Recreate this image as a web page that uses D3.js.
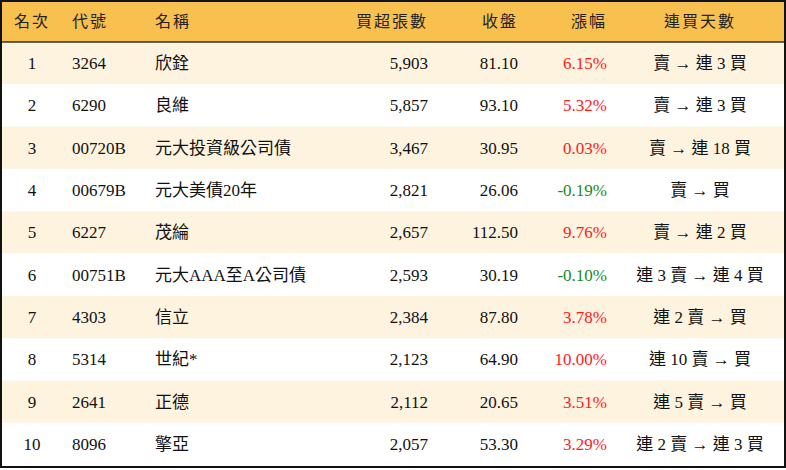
<!DOCTYPE html>
<html><head><meta charset="utf-8">
<script src="https://cdn.jsdelivr.net/npm/d3@7"></script>
<style>body{margin:0;background:#fff}</style>
</head><body>
<script>
"use strict";

// table data
const headers = ["名次", "代號", "名稱", "買超張數", "收盤", "漲幅", "連買天數"];
const ranks = [1, 2, 3, 4, 5, 6, 7, 8, 9, 10];
const codes = ["3264", "6290", "00720B", "00679B", "6227", "00751B", "4303", "5314", "2641", "8096"];
const names = ["欣銓", "良維", "元大投資級公司債", "元大美債20年", "茂綸", "元大AAA至A公司債", "信立", "世紀*", "正德", "擎亞"];
const netBuy = [5903, 5857, 3467, 2821, 2657, 2593, 2384, 2123, 2112, 2057];
const closes = [81.10, 93.10, 30.95, 26.06, 112.50, 30.19, 87.80, 64.90, 20.65, 53.30];
const changes = [6.15, 5.32, 0.03, -0.19, 9.76, -0.10, 3.78, 10.00, 3.51, 3.29];
const streaks = ["賣 → 連 3 買", "賣 → 連 3 買", "賣 → 連 18 買", "賣 → 買", "賣 → 連 2 買",
                 "連 3 賣 → 連 4 買", "連 2 賣 → 買", "連 10 賣 → 買", "連 5 賣 → 買", "連 2 賣 → 連 3 買"];

const W = 786, H = 470, headH = 42, rowH = 42.3;
const cjk = "'Noto Sans CJK TC', sans-serif";
const serif = "'Liberation Serif', 'Noto Sans CJK TC', serif";

// column layout: [x, anchor]
const cols = [[32, "middle"], [72, "start"], [155, "start"], [428, "end"], [518, "end"], [607, "end"], [700, "middle"]];

const svg = d3.select("body").append("svg").attr("width", W).attr("height", H);

const y = d3.scaleBand().domain(ranks).range([headH, headH + rowH * ranks.length]);

svg.append("rect").attr("x", 0).attr("y", 0).attr("width", W).attr("height", headH).attr("fill", "#f8c04e");

const rows = svg.selectAll("g.row").data(ranks.map((r, i) => i)).join("g")
    .attr("transform", i => `translate(0,${y(ranks[i])})`);

rows.append("rect").attr("width", W).attr("height", y.bandwidth())
    .attr("fill", i => i % 2 == 0 ? "#fdf3df" : "#ffffff");

svg.append("line").attr("x1", 0).attr("x2", W).attr("y1", headH).attr("y2", headH)
    .attr("stroke", "#333").attr("stroke-width", 1.5);

svg.selectAll("text.h").data(headers).join("text")
    .attr("x", (d, i) => cols[i][0]).attr("y", headH / 2 + 6)
    .attr("text-anchor", (d, i) => cols[i][1])
    .attr("font-family", cjk).attr("font-size", 16).attr("letter-spacing", 2).attr("fill", "#222")
    .text(d => d);

const fmt = d3.format(",");
function cells(i) {
    return [
        [String(ranks[i]), "#111"],
        [codes[i], "#111"],
        [names[i], "#111"],
        [fmt(netBuy[i]), "#111"],
        [closes[i].toFixed(2), "#111"],
        [changes[i].toFixed(2) + "%", changes[i] < 0 ? "#1a8a1a" : "#ff1a1a"],
        [streaks[i], "#111"],
    ];
}

rows.each(function(i) {
    d3.select(this).selectAll("text").data(cells(i)).join("text")
        .attr("x", (d, j) => cols[j][0]).attr("y", y.bandwidth() / 2 + 6)
        .attr("text-anchor", (d, j) => cols[j][1])
        .attr("font-family", serif).attr("font-size", 17)
        .attr("fill", d => d[1])
        .text(d => d[0]);
});

svg.append("rect").attr("x", 1).attr("y", 1).attr("width", W - 2).attr("height", headH + rowH * ranks.length + 1)
    .attr("fill", "none").attr("stroke", "#111").attr("stroke-width", 2);
</script>
</body></html>
